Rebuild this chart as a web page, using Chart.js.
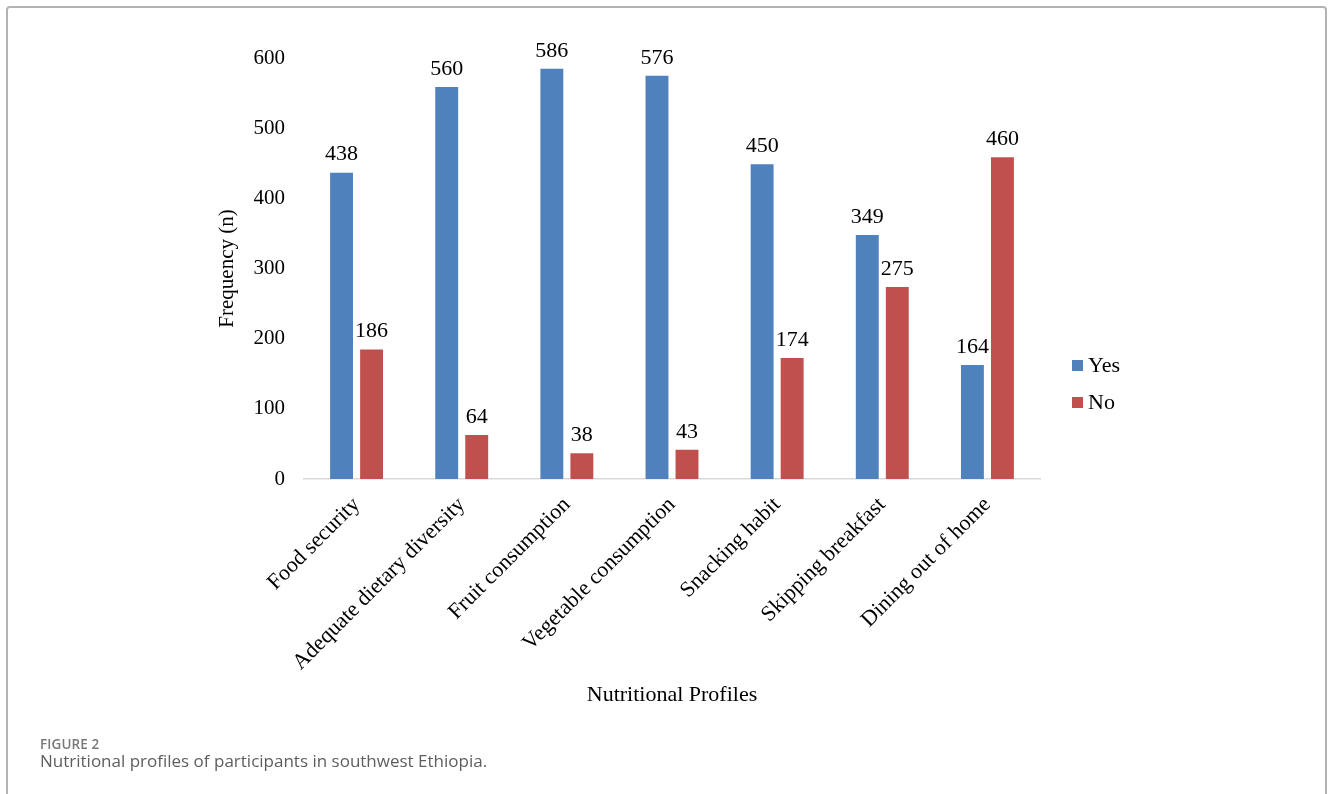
<!DOCTYPE html>
<html>
<head>
<meta charset="utf-8">
<script src="https://cdn.jsdelivr.net/npm/chart.js@4.4.0/dist/chart.umd.min.js"></script>
<style>
  html, body { margin: 0; padding: 0; background: #fff; }
  body { width: 1330px; height: 794px; position: relative; overflow: hidden; }
  #frame { position: absolute; left: 6px; top: 6px; width: 1321px; height: 820px; border: 2px solid #b3b3b3; border-radius: 4px; box-sizing: border-box; }
  #wrap { position: absolute; left: 0; top: 0; width: 1330px; height: 794px; }
  .cap1 { position: absolute; left: 40px; top: 735px; font-family: "Open Sans", sans-serif; font-weight: 600; font-size: 13.5px; color: #777; letter-spacing: 0.1px; }
  .cap2 { position: absolute; left: 40px; top: 749px; font-family: "Open Sans", sans-serif; font-size: 17px; color: #5e5e5e; }
</style>
</head>
<body>
<div id="frame"></div>
<div id="wrap"><canvas id="c" width="1330" height="794"></canvas></div>
<div class="cap1">FIGURE 2</div>
<div class="cap2">Nutritional profiles of participants in southwest Ethiopia.</div>
<script>
const categories = ["Food security", "Adequate dietary diversity", "Fruit consumption", "Vegetable consumption", "Snacking habit", "Skipping breakfast", "Dining out of home"];
const yesValues = [438, 560, 586, 576, 450, 349, 164];
const noValues = [186, 64, 38, 43, 174, 275, 460];
const yTicks = [0, 100, 200, 300, 400, 500, 600];

const serif = "'Liberation Serif', 'Times New Roman', serif";

const valueLabels = {
  id: 'valueLabels',
  afterDatasetsDraw(chart) {
    const ctx = chart.ctx;
    ctx.save();
    ctx.font = "22px " + serif;
    ctx.fillStyle = '#000';
    ctx.textAlign = 'center';
    ctx.textBaseline = 'bottom';
    chart.data.datasets.forEach((ds, di) => {
      const meta = chart.getDatasetMeta(di);
      meta.data.forEach((bar, i) => {
        ctx.fillText(String(ds.data[i]), bar.x, bar.y - 6);
      });
    });
    ctx.restore();
  }
};

const sideLegend = {
  id: 'sideLegend',
  afterDraw(chart) {
    const ctx = chart.ctx;
    ctx.save();
    ctx.font = "22px " + serif;
    ctx.textBaseline = 'middle';
    ctx.textAlign = 'left';
    chart.data.datasets.forEach((ds, di) => {
      const cy = 365 + di * 37;
      ctx.fillStyle = ds.backgroundColor;
      ctx.fillRect(1072, cy - 5, 11, 11);
      ctx.fillStyle = '#000';
      ctx.fillText(ds.label, 1088, cy + 1);
    });
    ctx.restore();
  }
};

new Chart(document.getElementById('c'), {
  type: 'bar',
  data: {
    labels: categories,
    datasets: [
      { label: 'Yes', data: yesValues, backgroundColor: '#4F81BD', borderColor: 'rgba(255,255,255,0.5)', borderWidth: 1 },
      { label: 'No', data: noValues, backgroundColor: '#C0504D', borderColor: 'rgba(255,255,255,0.5)', borderWidth: 1 }
    ]
  },
  options: {
    responsive: false,
    animation: false,
    devicePixelRatio: 1,
    layout: { padding: { left: 204, right: 290, top: 58, bottom: 80 } },
    datasets: { bar: { categoryPercentage: 0.571, barPercentage: 0.83 } },
    plugins: { legend: { display: false }, tooltip: { enabled: false } },
    scales: {
      x: {
        grid: { display: false, drawTicks: false },
        border: { display: true, color: '#d9d9d9', width: 1.5 },
        ticks: { color: '#000', font: { family: serif, size: 22 }, minRotation: 45, maxRotation: 45, padding: 13, autoSkip: false },
        title: { display: true, text: 'Nutritional Profiles', color: '#000', font: { family: serif, size: 22 }, padding: { top: 0, bottom: 6 } },
        afterFit(scale) { scale.height = 235; }
      },
      y: {
        min: 0, max: 600,
        afterBuildTicks(scale) { scale.ticks = yTicks.map(v => ({ value: v })); },
        grid: { display: false, drawTicks: false },
        border: { display: false },
        ticks: { color: '#000', font: { family: serif, size: 21 }, padding: 19 },
        title: { display: true, text: 'Frequency (n)', color: '#000', font: { family: serif, size: 21 }, padding: { top: 11, bottom: 0 } },
        afterFit(scale) { scale.width = 100; }
      }
    }
  },
  plugins: [valueLabels, sideLegend]
});
</script>
</body>
</html>
